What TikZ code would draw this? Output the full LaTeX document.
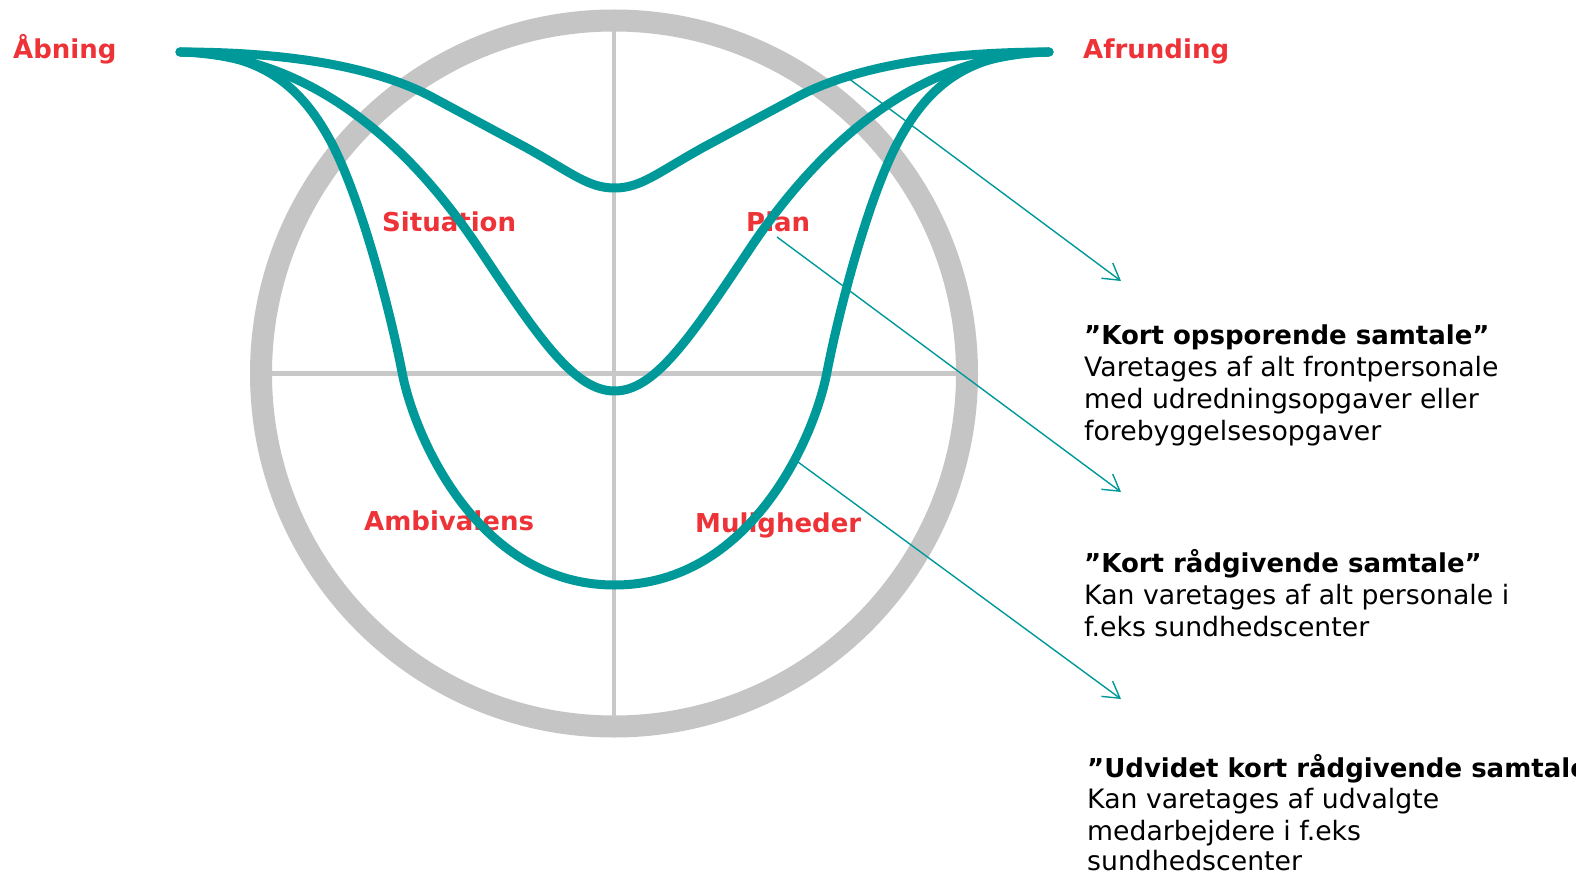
\documentclass[tikz,border=0pt]{standalone}
\usepackage{fontspec}
\setmainfont{DejaVu Sans}
\usetikzlibrary{arrows.meta}
\definecolor{curveteal}{RGB}{0,153,153}
\definecolor{labelred}{RGB}{238,51,56}
\definecolor{ringgray}{RGB}{197,197,197}
\definecolor{axisgray}{RGB}{200,200,200}
\begin{document}
\begin{tikzpicture}[x=1pt,y=-1pt,
  phase/.style={text=labelred, font=\bfseries\fontsize{26}{32}\selectfont, anchor=base west, inner sep=0pt},
  body/.style={text=black, font=\fontsize{26.7}{32}\selectfont, anchor=base west, inner sep=0pt},
  head/.style={body, font=\bfseries\fontsize{26}{32}\selectfont},
  trail/.style={draw=curveteal, line width=9pt, line cap=round, line join=round},
  pointer/.style={draw=curveteal, line width=1.4pt, -{Straight Barb[length=16pt,width=19pt,line width=1.4pt]}},
  ring/.style={draw=ringgray, line width=22pt},
  axis/.style={draw=axisgray, line width=4.5pt}
]
\fill[white] (0,0) rectangle (1576,877);
\useasboundingbox (0,0) rectangle (1576,877);

% wheel with its four quadrants
\coordinate (hub) at (614,373.5);
\draw[ring] (hub) circle[radius=353pt];
\draw[axis] (272,373.5) -- (956,373.5);
\draw[axis] (614,31.5) -- (614,715.5);

% phase labels
\node[phase] (abn) at (13,59) {Åbning};
\node[phase] (afr) at (1083,59) {Afrunding};
\node[phase] (sit) at (382,232) {Situation};
\node[phase] (pla) at (746,232) {Plan};
\node[phase] (amb) at (364,530) {Ambivalens};
\node[phase] (mul) at (695,532) {Muligheder};

% conversation types
\node[head] (k1) at (1084,344) {”Kort opsporende samtale”};
\node[body] (k1a) at (1084,376) {Varetages af alt frontpersonale};
\node[body] (k1b) at (1084,408) {med udredningsopgaver eller};
\node[body] (k1c) at (1084,440) {forebyggelsesopgaver};

\node[head] (k2) at (1084,572) {”Kort rådgivende samtale”};
\node[body] (k2a) at (1084,604) {Kan varetages af alt personale i};
\node[body] (k2b) at (1084,636) {f.eks sundhedscenter};

\node[head] (k3) at (1087,777) {”Udvidet kort rådgivende samtale”};
\node[body] (k3a) at (1087,808.5) {Kan varetages af udvalgte};
\node[body] (k3b) at (1087,840) {medarbejdere i f.eks};
\node[body] (k3c) at (1087,870) {sundhedscenter};

% pointers from each path to its description
\coordinate (p1) at (848,78);  \coordinate (t1) at (1121,281);
\coordinate (p2) at (777,237); \coordinate (t2) at (1121,492);
\coordinate (p3) at (798,462); \coordinate (t3) at (1121,699);
\draw[pointer] (p1) -- (t1);
\draw[pointer] (p2) -- (t2);
\draw[pointer] (p3) -- (t3);

% the three conversation paths
\coordinate (open) at (180,52);
\coordinate (close) at (1049,52);
\draw[trail] (open) .. controls (300,52) and (380,70) .. (430,96) -- (525,147)
  .. controls (572,173) and (588,188) .. (614.5,188)
  .. controls (641,188) and (657,173) .. (704,147) -- (799,96)
  .. controls (849,70) and (929,52) .. (close);
\draw[trail] (open) .. controls (300,55) and (400,130) .. (480,250)
  .. controls (540,340) and (575,391) .. (614.5,391)
  .. controls (654,391) and (689,340) .. (749,250)
  .. controls (829,130) and (929,55) .. (close);
\draw[trail] (open) .. controls (260,52) and (300,85) .. (330,140)
  .. controls (360,195) and (390,310) .. (402,372)
  .. controls (415,440) and (480,585) .. (614.5,585)
  .. controls (749,585) and (814,440) .. (827,372)
  .. controls (839,310) and (869,195) .. (899,140)
  .. controls (929,85) and (969,52) .. (close);
\end{tikzpicture}
\end{document}
